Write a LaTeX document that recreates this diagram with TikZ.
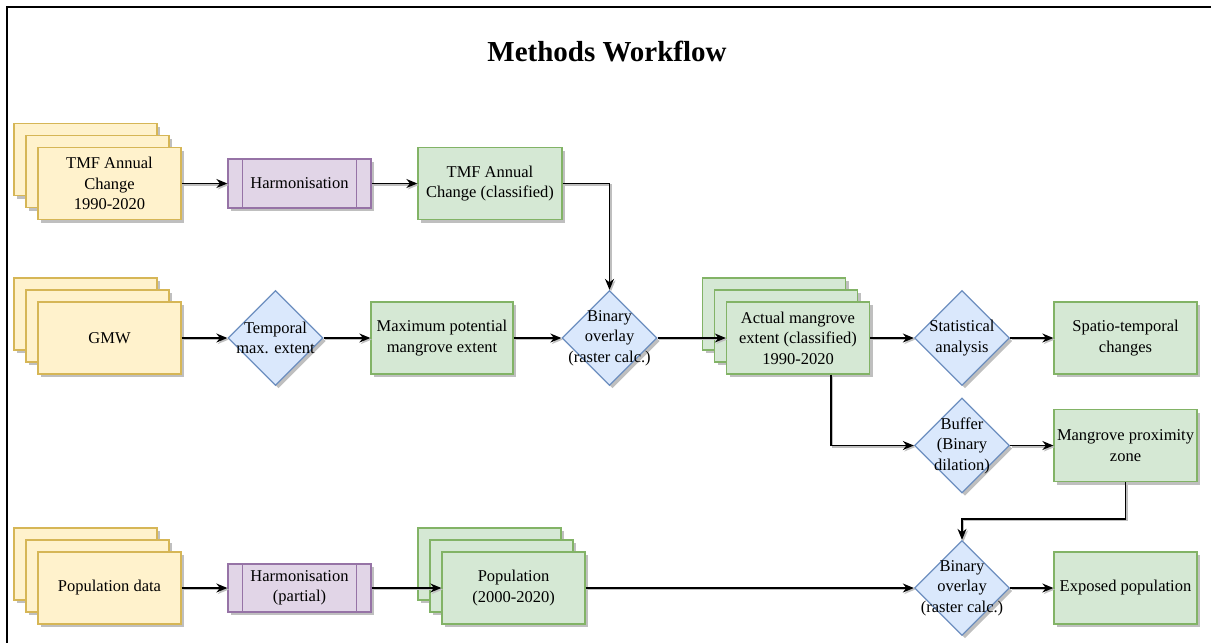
\documentclass[tikz,border=0pt]{standalone}
\usepackage{fontspec}
\setmainfont{Liberation Serif}
\usetikzlibrary{shapes.geometric,shadows,arrows.meta,calc}
\definecolor{yfill}{HTML}{FFF2CC}\definecolor{ydraw}{HTML}{D6B656}
\definecolor{gfill}{HTML}{D5E8D4}\definecolor{gdraw}{HTML}{82B366}
\definecolor{pfill}{HTML}{E1D5E7}\definecolor{pdraw}{HTML}{9673A6}
\definecolor{bfill}{HTML}{DAE8FC}\definecolor{bdraw}{HTML}{6C8EBF}
\begin{document}
\begin{tikzpicture}[x=1pt,y=-1pt,font=\fontsize{16.5}{20.5}\selectfont,
 shad/.style={drop shadow={shadow xshift=3pt,shadow yshift=-3pt,fill=black!25,opacity=1}},
 box/.style={rectangle,shad,line width=1.3pt,minimum width=143pt,minimum height=72pt,inner sep=0pt,align=center},
 ybox/.style={box,fill=yfill,draw=ydraw},
 gbox/.style={box,fill=gfill,draw=gdraw},
 pbox/.style={rectangle,shad,fill=pfill,draw=pdraw,line width=1.3pt,minimum width=143pt,minimum height=49pt,inner sep=0pt,align=center},
 dia/.style={diamond,shape aspect=1,shad,fill=bfill,draw=bdraw,line width=1.3pt,minimum width=95pt,minimum height=95pt,inner sep=0pt},
 dtext/.style={align=center,inner sep=0pt},
 conn/.style={line width=1.4pt,-{Stealth[length=11pt,width=9pt]},preaction={draw=black!25,line width=1.4pt,transform canvas={xshift=1.5pt,yshift=-1.5pt}}},
 pline/.style={draw=pdraw,line width=1.3pt}
]
\useasboundingbox (0,0) rectangle (1211,643);
\draw[line width=2pt] (7,643) -- (7,7) -- (1211,7);
\node[font=\fontsize{29}{34}\selectfont\bfseries] (title) at (607,52) {Methods Workflow};

% Row 1
\node[ybox] (tmfa) at (85.5,159.5) {};
\node[ybox] (tmfb) at (97.5,171.5) {};
\node[ybox] (tmf) at (109.5,183.5) {TMF Annual\\Change\\1990-2020};
\node[pbox] (h1) at (299.5,183.5) {Harmonisation};
\draw[pline] ($(h1.north west)+(15,0)$) -- ($(h1.south west)+(15,0)$);
\draw[pline] ($(h1.north east)+(-15,0)$) -- ($(h1.south east)+(-15,0)$);
\node[gbox,minimum width=144pt] (tmfc) at (490,183.5) {TMF Annual\\Change (classified)};

% Row 2
\node[ybox] (gmwa) at (85.5,314) {};
\node[ybox] (gmwb) at (97.5,326) {};
\node[ybox] (gmw) at (109.5,338) {GMW};
\node[dia] (tm) at (275.5,338) {};
\node[dtext] (tmt) at (tm) {Temporal\\max. extent};
\node[gbox,minimum width=142pt] (mp) at (442,338) {Maximum potential\\mangrove extent};
\node[dia] (bo1) at (609.5,338) {};
\node[dtext] (bo1t) at (bo1) {Binary\\overlay\\(raster calc.)};
\node[gbox] (acta) at (774,314) {};
\node[gbox] (actb) at (786,326) {};
\node[gbox] (act) at (798,338) {Actual mangrove\\extent (classified)\\1990-2020};
\node[dia] (st) at (962,338) {};
\node[dtext] (stt) at (st) {Statistical\\analysis};
\node[gbox] (sp) at (1125.5,338) {Spatio-temporal\\changes};

% Buffer row
\node[dia] (buf) at (962,445.5) {};
\node[dtext] (buft) at (buf) {Buffer\\(Binary\\dilation)};
\node[gbox] (prox) at (1125.5,445.5) {Mangrove proximity\\zone};

% Row 3
\node[ybox] (popa) at (85.5,564) {};
\node[ybox] (popb) at (97.5,576) {};
\node[ybox] (pop) at (109.5,588) {Population data};
\node[pbox,minimum height=48pt] (h2) at (299.5,588) {Harmonisation\\(partial)};
\draw[pline] ($(h2.north west)+(15,0)$) -- ($(h2.south west)+(15,0)$);
\draw[pline] ($(h2.north east)+(-15,0)$) -- ($(h2.south east)+(-15,0)$);
\node[gbox] (popga) at (489.5,564) {};
\node[gbox] (popgb) at (501.5,576) {};
\node[gbox] (popg) at (513.5,588) {Population\\(2000-2020)};
\node[dia] (bo2) at (962,588) {};
\node[dtext] (bo2t) at (bo2) {Binary\\overlay\\(raster calc.)};
\node[gbox] (exp) at (1125.5,588) {Exposed population};

% Connectors
\draw[conn] (tmf.east) -- (h1.west);
\draw[conn] (h1.east) -- (tmfc.west);
\draw[conn] (tmfc.east) -| (bo1.north);
\draw[conn] (gmw.east) -- (tm.west);
\draw[conn] (tm.east) -- (mp.west);
\draw[conn] (mp.east) -- (bo1.west);
\draw[conn] (bo1.east) -- (act.west);
\draw[conn] (act.east) -- (st.west);
\draw[conn] (st.east) -- (sp.west);
\draw[conn] ($(act.south west)+(105,0)$) |- (buf.west);
\draw[conn] (buf.east) -- (prox.west);
\draw[conn] (prox.south) -- ++(0,37) -| (bo2.north);
\draw[conn] (pop.east) -- (h2.west);
\draw[conn] (h2.east) -- (popg.west);
\draw[conn] (popg.east) -- (bo2.west);
\draw[conn] (bo2.east) -- (exp.west);
\end{tikzpicture}
\end{document}
